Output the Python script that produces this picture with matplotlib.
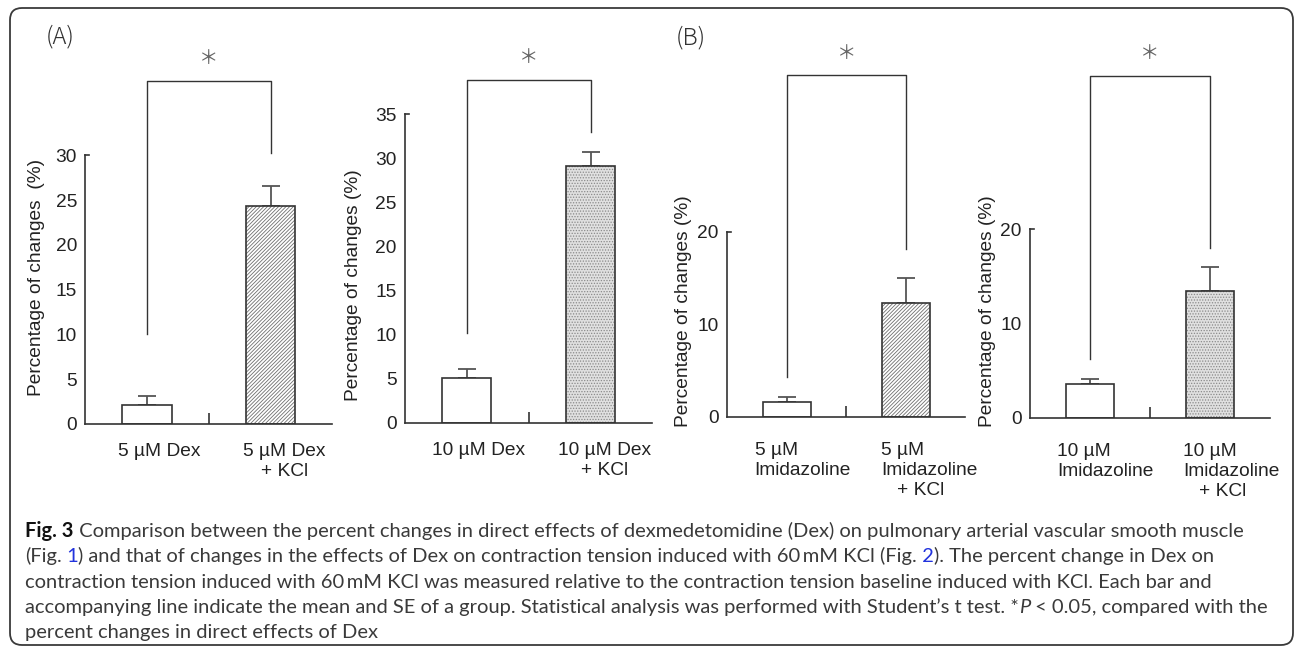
import numpy as np
import matplotlib
matplotlib.use("Agg")
import matplotlib.pyplot as plt
import matplotlib.transforms as mtransforms
from matplotlib.patches import FancyBboxPatch

# DATA
labels_a1 = ["5 µM Dex", "5 µM Dex\n+ KCl"]
means_a1 = [2.1, 24.3]
se_a1 = [1.0, 2.3]

labels_a2 = ["10 µM Dex", "10 µM Dex\n+ KCl"]
means_a2 = [5.1, 29.1]
se_a2 = [1.0, 1.6]

labels_b1 = ["5 µM\nImidazoline", "5 µM\nImidazoline\n   + KCl"]
means_b1 = [1.55, 12.3]
se_b1 = [0.6, 2.7]

labels_b2 = ["10 µM\nImidazoline", "10 µM\nImidazoline\n   + KCl"]
means_b2 = [3.6, 13.4]
se_b2 = [0.5, 2.6]

ymax = [30, 35, 20, 20]
ystep = [5, 5, 10, 10]
# significance brackets: left leg start, top, right leg start
brackets = [(10.1, 38.35, 30.3), (10.2, 38.9, 33.0), (4.3, 36.9, 18.1), (6.2, 36.2, 18.0)]

W, H = 1295, 649
fig = plt.figure(figsize=(W / 100, H / 100), dpi=100)
plt.rcParams["font.family"] = ["Liberation Sans", "DejaVu Sans"]
plt.rcParams["hatch.linewidth"] = 0.6

DARK = "#333333"
FS = 13.8

# layout in pixels: (center of first bar, px per unit, bottom, top)
layout = [(147, 123.5, 424, 155.3), (466.7, 123.8, 422.7, 114.3),
          (786.7, 119.1, 416.7, 231.7), (1090, 120, 417.7, 229)]
ylabel_pos = [(37, 277), (353, 285), (683, 311), (988, 311)]
ylabels = ["Percentage of changes  (%)", "Percentage of changes (%)",
           "Percentage of changes (%)", "Percentage of changes (%)"]

panels = [(labels_a1, means_a1, se_a1, "hatch"), (labels_a2, means_a2, se_a2, "dots"),
          (labels_b1, means_b1, se_b1, "hatch"), (labels_b2, means_b2, se_b2, "dots")]

for i, (labs, means, se, style) in enumerate(panels):
    c0, unit, bot, top = layout[i]
    left = c0 - 0.5 * unit
    right = c0 + 1.5 * unit
    ax = fig.add_axes([left / W, 1 - bot / H, (right - left) / W, (bot - top) / H])
    ax.set_xlim(-0.5, 1.5)
    ax.set_ylim(0, ymax[i])
    x = np.arange(2)

    # error bars (upper only)
    ax.errorbar(x, means, yerr=[[0, 0], se], fmt="none", ecolor="#555555",
                elinewidth=1.3, capsize=6.5, capthick=1.3, zorder=1)
    # first bar: white
    ax.bar(x[0], means[0], width=0.4, color="white", edgecolor=DARK, linewidth=1.2, zorder=2)
    # second bar: patterned
    if style == "hatch":
        ax.bar(x[1], means[1], width=0.4, color="white", edgecolor="#6f6f6f",
               hatch="/" * 9, linewidth=0, zorder=2)
    else:
        ax.bar(x[1], means[1], width=0.4, color="#e0e0e0", edgecolor="#8a8a8a",
               hatch="." * 6, linewidth=0, zorder=2)
    ax.bar(x[1], means[1], width=0.4, fill=False, edgecolor=DARK, linewidth=1.2, zorder=3)

    for s in ["top", "right"]:
        ax.spines[s].set_visible(False)
    for s in ["left", "bottom"]:
        ax.spines[s].set_color(DARK)
        ax.spines[s].set_linewidth(1.2)

    ax.set_yticks(np.arange(0, ymax[i] + 1, ystep[i]))
    ax.tick_params(axis="y", length=0, pad=6, labelsize=FS, labelcolor="#222222")
    ax.plot([-0.5, -0.47], [ymax[i], ymax[i]], color=DARK, lw=1.2, clip_on=False)

    ax.set_xticks(x)
    ax.set_xticks([0.5], minor=True)
    ax.tick_params(axis="x", which="minor", direction="in", length=8, width=1.2, color=DARK)
    if i < 2:
        ax.tick_params(axis="x", which="major", length=0, pad=14, labelsize=FS, labelcolor="#222222")
        ax.set_xticklabels(labs, linespacing=1.2)
        offs = [12, 14]
    else:
        ax.tick_params(axis="x", which="major", length=0, pad=18, labelsize=FS, labelcolor="#222222")
        ax.set_xticklabels(labs, linespacing=1.25, ha="left", multialignment="left")
        offs = [-32, -25] if i == 2 else [-33, -27]
    for lab, dx in zip(ax.get_xticklabels(), offs):
        lab.set_transform(lab.get_transform() + mtransforms.ScaledTranslation(dx / 100, 0, fig.dpi_scale_trans))

    # significance bracket
    lo_l, btop, lo_r = brackets[i]
    ax.plot([0, 0, 1, 1], [lo_l, btop, btop, lo_r], color=DARK, lw=1.0, clip_on=False)
    ax.annotate("＊", (0.5, btop), xytext=(0, 16), textcoords="offset points",
                ha="center", va="center", fontsize=14, color="#666666",
                family=["Noto Sans CJK JP", "DejaVu Sans"], annotation_clip=False)

    lx, ly = ylabel_pos[i]
    fig.text(lx / W, 1 - ly / H, ylabels[i], rotation=90, ha="center", va="center",
             fontsize=FS, color="#222222")

# panel letters
for txt, px, py in [("(A)", 60, 37), ("(B)", 691, 38)]:
    fig.text(px / W, 1 - py / H, txt, ha="center", va="center", fontsize=17,
             color="#333333", family=["Noto Sans CJK JP", "DejaVu Sans"], weight="light")

# rounded frame
frame = FancyBboxPatch((10, 4), 1283, 637, boxstyle="round,pad=0,rounding_size=12",
                       transform=mtransforms.IdentityTransform(), fill=False,
                       edgecolor="#3a3a3a", linewidth=1.3)
fig.patches.append(frame)

# caption
cap_font = ["Lato", "DejaVu Sans"]
cap_color = "#3a3a3a"
link = "#2233dd"
caption = [
    [("Fig. 3", {"weight": "bold", "color": "#111111"}),
     (" Comparison between the percent changes in direct effects of dexmedetomidine (Dex) on pulmonary arterial vascular smooth muscle", {})],
    [("(Fig.", {}), (" 1", {"color": link}),
     (") and that of changes in the effects of Dex on contraction tension induced with 60\u2009mM KCl (Fig.", {}),
     (" 2", {"color": link}), ("). The percent change in Dex on", {})],
    [("contraction tension induced with 60\u2009mM KCl was measured relative to the contraction tension baseline induced with KCl. Each bar and", {})],
    [("accompanying line indicate the mean and SE of a group. Statistical analysis was performed with Student\u2019s t test. *", {}),
     ("P", {"style": "italic"}), (" < 0.05, compared with the", {})],
    [("percent changes in direct effects of Dex", {})],
]
baselines = [537, 562, 587.5, 613, 638]
renderer = fig.canvas.get_renderer()
for line, yb in zip(caption, baselines):
    xpos = 25
    for txt, kw in line:
        props = {"color": cap_color}
        props.update(kw)
        t = fig.text(xpos / W, 1 - yb / H, txt, ha="left", va="baseline", fontsize=14.5,
                     family=cap_font, **props)
        xpos += t.get_window_extent(renderer).width

fig.savefig("out.png", dpi=100)
